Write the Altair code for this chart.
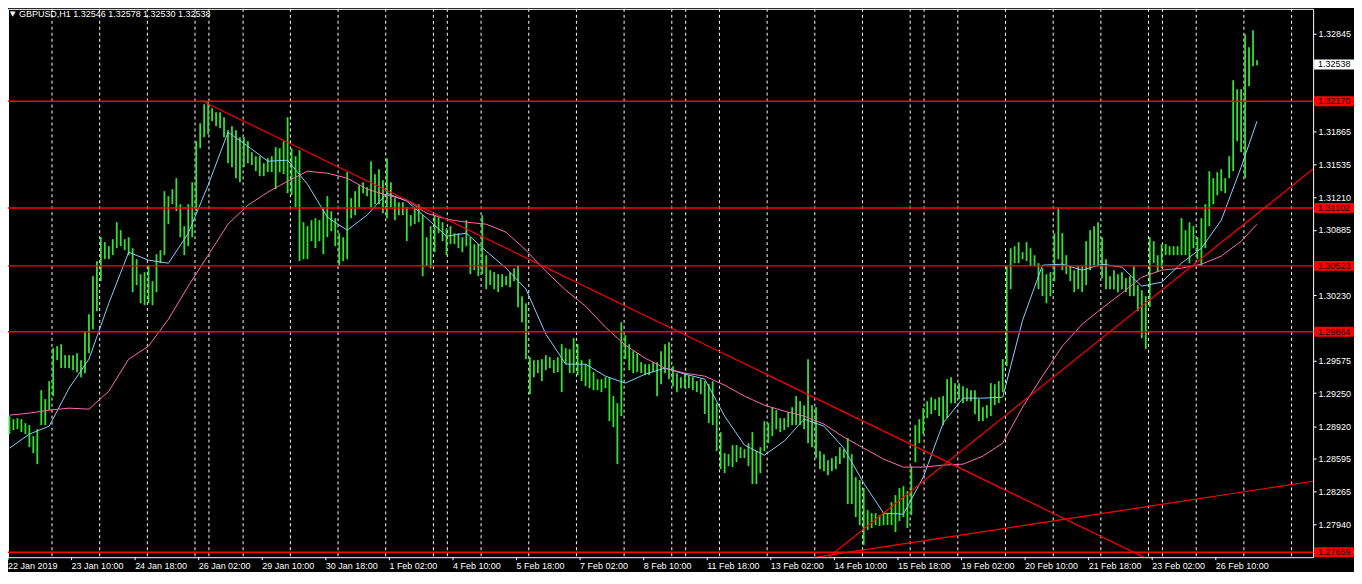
import altair as alt
import pandas as pd

# ---------------- data ----------------
# one bar = two hourly bars; index 0..314
highs = [1.2902, 1.2899, 1.2900, 1.2899, 1.2895, 1.2893, 1.2882, 1.2889, 1.2928, 1.2919,
         1.2937, 1.2970, 1.2972, 1.2974, 1.2963, 1.2963, 1.2963, 1.2965, 1.2958, 1.2987,
         1.3004, 1.3042, 1.3057, 1.3081, 1.3076, 1.3072, 1.3079, 1.3096, 1.3088, 1.3079,
         1.3081, 1.3070, 1.3059, 1.3044, 1.3046, 1.3053, 1.3037, 1.3064, 1.3068, 1.3127,
         1.3122, 1.3129, 1.3140, 1.3114, 1.3092, 1.3114, 1.3136, 1.3177, 1.3195, 1.3214,
         1.3217, 1.3210, 1.3206, 1.3206, 1.3201, 1.3188, 1.3192, 1.3188, 1.3181, 1.3181,
         1.3177, 1.3166, 1.3162, 1.3162, 1.3155, 1.3160, 1.3162, 1.3171, 1.3170, 1.3177,
         1.3201, 1.3170, 1.3162, 1.3168, 1.3096, 1.3092, 1.3098, 1.3100, 1.3098, 1.3111,
         1.3122, 1.3107, 1.3100, 1.3085, 1.3081, 1.3146, 1.3120, 1.3127, 1.3133, 1.3136,
         1.3131, 1.3157, 1.3144, 1.3149, 1.3138, 1.3160, 1.3136, 1.3120, 1.3116, 1.3116,
         1.3111, 1.3103, 1.3111, 1.3114, 1.3103, 1.3081, 1.3092, 1.3103, 1.3101, 1.3096,
         1.3090, 1.3092, 1.3085, 1.3085, 1.3081, 1.3098, 1.3081, 1.3074, 1.3074, 1.3103,
         1.3063, 1.3048, 1.3046, 1.3044, 1.3044, 1.3042, 1.3046, 1.3050, 1.3053, 1.3022,
         1.3015, 1.2961, 1.2958, 1.2958, 1.2959, 1.2963, 1.2961, 1.2958, 1.2961, 1.2974,
         1.2970, 1.2969, 1.2980, 1.2974, 1.2958, 1.2954, 1.2959, 1.2946, 1.2939, 1.2939,
         1.2941, 1.2941, 1.2922, 1.2915, 1.2996, 1.2983, 1.2974, 1.2967, 1.2965, 1.2956,
         1.2954, 1.2954, 1.2956, 1.2956, 1.2967, 1.2974, 1.2976, 1.2952, 1.2945, 1.2941,
         1.2945, 1.2943, 1.2941, 1.2937, 1.2939, 1.2937, 1.2934, 1.2937, 1.2915, 1.2886,
         1.2865, 1.2864, 1.2873, 1.2873, 1.2871, 1.2869, 1.2875, 1.2886, 1.2867, 1.2871,
         1.2897, 1.2895, 1.2911, 1.2908, 1.2900, 1.2900, 1.2906, 1.2911, 1.2922, 1.2917,
         1.2913, 1.2959, 1.2913, 1.2911, 1.2867, 1.2864, 1.2858, 1.2860, 1.2862, 1.2871,
         1.2869, 1.2880, 1.2864, 1.2841, 1.2838, 1.2830, 1.2808, 1.2805, 1.2805, 1.2803,
         1.2805, 1.2805, 1.2816, 1.2823, 1.2830, 1.2832, 1.2827, 1.2852, 1.2893, 1.2899,
         1.2910, 1.2917, 1.2921, 1.2919, 1.2921, 1.2922, 1.2939, 1.2941, 1.2935, 1.2935,
         1.2932, 1.2930, 1.2928, 1.2928, 1.2919, 1.2911, 1.2913, 1.2935, 1.2934, 1.2937,
         1.2959, 1.3052, 1.3070, 1.3072, 1.3076, 1.3066, 1.3076, 1.3070, 1.3063, 1.3055,
         1.3050, 1.3044, 1.3046, 1.3085, 1.3111, 1.3085, 1.3063, 1.3052, 1.3048, 1.3052,
         1.3052, 1.3077, 1.3088, 1.3092, 1.3096, 1.3081, 1.3059, 1.3042, 1.3048, 1.3044,
         1.3046, 1.3040, 1.3042, 1.3052, 1.3033, 1.3028, 1.3022, 1.3081, 1.3077, 1.3063,
         1.3074, 1.3074, 1.3072, 1.3072, 1.3072, 1.3100, 1.3088, 1.3096, 1.3092, 1.3081,
         1.3100, 1.3114, 1.3147, 1.3140, 1.3146, 1.3149, 1.3140, 1.3162, 1.3238, 1.3229,
         1.3229, 1.3284, 1.3271, 1.3288, 1.3258]

lows = [1.2884, 1.2888, 1.2889, 1.2886, 1.2884, 1.2871, 1.2865, 1.2854, 1.2893, 1.2893,
        1.2908, 1.2922, 1.2958, 1.2950, 1.2950, 1.2950, 1.2948, 1.2946, 1.2941, 1.2945,
        1.2965, 1.2989, 1.3007, 1.3037, 1.3059, 1.3059, 1.3063, 1.3070, 1.3072, 1.3068,
        1.3063, 1.3026, 1.3033, 1.3015, 1.3013, 1.3015, 1.3013, 1.3026, 1.3055, 1.3063,
        1.3094, 1.3114, 1.3107, 1.3081, 1.3063, 1.3072, 1.3081, 1.3107, 1.3170, 1.3181,
        1.3184, 1.3197, 1.3192, 1.3190, 1.3181, 1.3155, 1.3151, 1.3140, 1.3136, 1.3151,
        1.3155, 1.3153, 1.3147, 1.3142, 1.3142, 1.3146, 1.3146, 1.3129, 1.3146, 1.3144,
        1.3125, 1.3123, 1.3111, 1.3057, 1.3059, 1.3059, 1.3077, 1.3070, 1.3077, 1.3064,
        1.3081, 1.3087, 1.3072, 1.3053, 1.3057, 1.3059, 1.3100, 1.3103, 1.3111, 1.3125,
        1.3122, 1.3111, 1.3114, 1.3114, 1.3105, 1.3100, 1.3111, 1.3098, 1.3103, 1.3103,
        1.3077, 1.3092, 1.3094, 1.3096, 1.3042, 1.3052, 1.3050, 1.3066, 1.3085, 1.3077,
        1.3063, 1.3074, 1.3074, 1.3070, 1.3066, 1.3072, 1.3044, 1.3048, 1.3042, 1.3044,
        1.3029, 1.3033, 1.3029, 1.3026, 1.3031, 1.3033, 1.3031, 1.3037, 1.3011, 1.2996,
        1.2959, 1.2924, 1.2941, 1.2945, 1.2937, 1.2948, 1.2950, 1.2945, 1.2946, 1.2926,
        1.2954, 1.2945, 1.2945, 1.2943, 1.2937, 1.2932, 1.2930, 1.2928, 1.2928, 1.2926,
        1.2930, 1.2897, 1.2891, 1.2854, 1.2902, 1.2959, 1.2948, 1.2945, 1.2946, 1.2945,
        1.2943, 1.2943, 1.2946, 1.2922, 1.2934, 1.2945, 1.2939, 1.2932, 1.2926, 1.2930,
        1.2930, 1.2930, 1.2928, 1.2926, 1.2924, 1.2904, 1.2895, 1.2893, 1.2867, 1.2849,
        1.2845, 1.2852, 1.2851, 1.2856, 1.2860, 1.2860, 1.2852, 1.2834, 1.2834, 1.2845,
        1.2867, 1.2875, 1.2882, 1.2889, 1.2886, 1.2888, 1.2891, 1.2893, 1.2893, 1.2893,
        1.2889, 1.2875, 1.2871, 1.2860, 1.2849, 1.2847, 1.2843, 1.2847, 1.2849, 1.2854,
        1.2860, 1.2814, 1.2814, 1.2801, 1.2793, 1.2773, 1.2788, 1.2790, 1.2793, 1.2792,
        1.2793, 1.2793, 1.2793, 1.2786, 1.2797, 1.2801, 1.2790, 1.2803, 1.2856, 1.2875,
        1.2884, 1.2900, 1.2904, 1.2908, 1.2902, 1.2893, 1.2900, 1.2915, 1.2915, 1.2919,
        1.2915, 1.2917, 1.2917, 1.2904, 1.2897, 1.2897, 1.2900, 1.2902, 1.2913, 1.2915,
        1.2926, 1.2952, 1.3029, 1.3055, 1.3055, 1.3059, 1.3057, 1.3052, 1.3052, 1.3029,
        1.3022, 1.3015, 1.3022, 1.3037, 1.3059, 1.3048, 1.3044, 1.3037, 1.3026, 1.3029,
        1.3026, 1.3033, 1.3048, 1.3053, 1.3052, 1.3040, 1.3029, 1.3029, 1.3029, 1.3026,
        1.3029, 1.3026, 1.3022, 1.3022, 1.3007, 1.2980, 1.2969, 1.3011, 1.3055, 1.3046,
        1.3050, 1.3063, 1.3063, 1.3063, 1.3063, 1.3063, 1.3063, 1.3055, 1.3070, 1.3059,
        1.3052, 1.3070, 1.3092, 1.3114, 1.3123, 1.3127, 1.3125, 1.3140, 1.3147, 1.3177,
        1.3166, 1.3140, 1.3232, 1.3252, 1.3253]

ma_index = [0, 5, 10, 15, 20, 25, 30, 35, 40, 45, 50, 55, 60, 65, 70, 75, 80, 85, 90, 95,
            100, 105, 110, 115, 120, 125, 130, 135, 140, 145, 150, 155, 160, 165, 170, 175,
            180, 185, 190, 195, 200, 205, 210, 215, 220, 225, 230, 235, 240, 245, 250, 255,
            260, 265, 270, 275, 280, 285, 290, 295, 300, 305, 310, 314]

ma_fast = [1.2870, 1.2884, 1.2892, 1.2930, 1.2959, 1.3015, 1.3066, 1.3058, 1.3055, 1.3085,
           1.3133, 1.3186, 1.3172, 1.3157, 1.3158, 1.3134, 1.3101, 1.3088, 1.3103, 1.3125,
           1.3117, 1.3100, 1.3082, 1.3085, 1.3067, 1.3050, 1.3029, 1.2984, 1.2954, 1.2954,
           1.2942, 1.2935, 1.2944, 1.2950, 1.2944, 1.2939, 1.2902, 1.2873, 1.2863, 1.2877,
           1.2899, 1.2892, 1.2870, 1.2835, 1.2805, 1.2804, 1.2841, 1.2895, 1.2920, 1.2920,
           1.2921, 1.2998, 1.3053, 1.3054, 1.3048, 1.3054, 1.3051, 1.3032, 1.3036, 1.3055,
           1.3070, 1.3098, 1.3151, 1.3197]

ma_slow = [1.2903, 1.2905, 1.2908, 1.2910, 1.2909, 1.2927, 1.2959, 1.2972, 1.2999, 1.3032,
           1.3063, 1.3094, 1.3113, 1.3126, 1.3137, 1.3147, 1.3145, 1.3140, 1.3129, 1.3123,
           1.3118, 1.3105, 1.3099, 1.3096, 1.3094, 1.3086, 1.3068, 1.3047, 1.3028, 1.3012,
           1.2991, 1.2973, 1.2960, 1.2950, 1.2945, 1.2942, 1.2933, 1.2922, 1.2913, 1.2907,
           1.2902, 1.2894, 1.2881, 1.2870, 1.2859, 1.2851, 1.2851, 1.2853, 1.2854, 1.2862,
           1.2875, 1.2911, 1.2942, 1.2972, 1.2994, 1.3010, 1.3025, 1.3041, 1.3048, 1.3050,
           1.3054, 1.3062, 1.3077, 1.3094]

level_prices = [1.32170, 1.31102, 1.30523, 1.29864, 1.27659]
current_price = 1.32538

trend_ids = ["down", "down", "up_steep", "up_steep", "up_flat", "up_flat"]
trend_index = [48.6, 300.0, 205.0, 328.1, 202.6, 328.1]
trend_price = [1.32170, 1.27330, 1.27572, 1.31492, 1.27607, 1.28369]

separator_index = [10.7, 22.7, 34.7, 46.7, 50.2, 58.8, 70.7, 82.7, 94.7, 106.7, 110.2,
                   118.7, 130.7, 142.7, 154.7, 166.7, 170.2, 178.7, 190.7, 202.7, 214.7,
                   226.7, 230.2, 238.7, 250.7, 262.7, 274.7, 286.7, 290.2, 298.7, 310.7,
                   322.7]

time_label_index = [-0.375, 15.625, 31.625, 47.625, 63.625, 79.625, 95.625, 111.625,
                    127.625, 143.625, 159.625, 175.625, 191.625, 207.625, 223.625,
                    239.625, 255.625, 271.625, 287.625, 303.625]
time_labels = ["22 Jan 2019", "23 Jan 10:00", "24 Jan 18:00", "26 Jan 02:00",
               "29 Jan 10:00", "30 Jan 18:00", "1 Feb 02:00", "4 Feb 10:00",
               "5 Feb 18:00", "7 Feb 02:00", "8 Feb 10:00", "11 Feb 18:00",
               "13 Feb 02:00", "14 Feb 10:00", "15 Feb 18:00", "19 Feb 02:00",
               "20 Feb 10:00", "21 Feb 18:00", "23 Feb 02:00", "26 Feb 10:00"]

price_ticks = [1.32845, 1.31865, 1.31535, 1.31210, 1.30885, 1.30230,
               1.29575, 1.29250, 1.28920, 1.28595, 1.28265, 1.27940]

header_text = "GBPUSD,H1  1.32546 1.32578 1.32530 1.32538"

# ---------------- tables ----------------
bars = pd.DataFrame({"i": list(range(len(highs))), "hi": highs, "lo": lows})
ma = pd.DataFrame({"i": ma_index, "fast": ma_fast, "slow": ma_slow})
levels = pd.DataFrame({"p": level_prices, "label": [f"{v:.5f}" for v in level_prices]})
cur = pd.DataFrame({"p": [current_price], "label": [f"{current_price:.5f}"]})
trends = pd.DataFrame({"id": trend_ids, "i": trend_index, "p": trend_price})
seps = pd.DataFrame({"i": separator_index})
tlab = pd.DataFrame({"i": time_label_index, "label": time_labels})
head = pd.DataFrame({"t": [header_text]})

W, H = 1309, 550
FONT = "Liberation Sans"
GREEN = "#33e033"
RED = "#ff0000"

xs = alt.Scale(domain=[-0.375, 328.125], nice=False, zero=False)
ys = alt.Scale(domain=[1.27609, 1.33094], nice=False, zero=False)
yaxis = alt.Axis(orient="right", values=price_ticks, format=".5f", title=None,
                 labelFont=FONT, labelFontSize=9, labelColor="white",
                 tickColor="white", tickSize=3, labelPadding=2, domain=False,
                 grid=False, labelFlush=False, labelOverlap=False)


def X(field="i"):
    return alt.X(f"{field}:Q", scale=xs, axis=None)


def Y(field):
    return alt.Y(f"{field}:Q", scale=ys, axis=yaxis)


sep_layer = alt.Chart(seps).mark_rule(color="white", strokeDash=[3, 3], strokeWidth=1).encode(
    x=X())

bar_layer = alt.Chart(bars).mark_rule(color=GREEN, strokeWidth=1.8).encode(
    x=X(), y=Y("lo"), y2="hi:Q")

fast_layer = alt.Chart(ma).mark_line(color="#87cefa", strokeWidth=1).encode(
    x=X(), y=Y("fast"))
slow_layer = alt.Chart(ma).mark_line(color="#ff69b4", strokeWidth=1).encode(
    x=X(), y=Y("slow"))

level_layer = alt.Chart(levels).mark_rule(color=RED, strokeWidth=1.5).encode(y=Y("p"))

trend_layer = alt.Chart(trends).mark_line(color=RED, strokeWidth=1.2, clip=True).encode(
    x=X(), y=Y("p"), detail="id:N")

level_box = alt.Chart(levels).mark_tick(orient="horizontal", color=RED, thickness=10,
                                        size=40, opacity=1).encode(
    y=Y("p"), x=alt.value(W + 21))
level_txt = alt.Chart(levels).mark_text(font=FONT, fontSize=9, color="black",
                                        align="left", baseline="middle").encode(
    y=Y("p"), x=alt.value(W + 5), text="label:N")

cur_box = alt.Chart(cur).mark_tick(orient="horizontal", color="white", thickness=10,
                                   size=40, opacity=1).encode(
    y=Y("p"), x=alt.value(W + 21))
cur_txt = alt.Chart(cur).mark_text(font=FONT, fontSize=9, color="black",
                                   align="left", baseline="middle").encode(
    y=Y("p"), x=alt.value(W + 5), text="label:N")

tick_layer = alt.Chart(tlab).mark_rule(color="white", strokeWidth=1).encode(
    x=X(), y=alt.value(H), y2=alt.value(H + 3))
tlab_layer = alt.Chart(tlab).mark_text(font=FONT, fontSize=9, color="white",
                                       align="left", baseline="middle").encode(
    x=X(), y=alt.value(H + 9), text="label:N")

tri_layer = alt.Chart(head).mark_text(font="DejaVu Sans", fontSize=7, color="white",
                                      align="left", baseline="middle", text="▼").encode(
    x=alt.value(2), y=alt.value(5))
head_layer = alt.Chart(head).mark_text(font=FONT, fontSize=9, color="white",
                                       align="left", baseline="middle").encode(
    x=alt.value(11), y=alt.value(5), text="t:N")

chart = alt.layer(
    sep_layer, bar_layer, fast_layer, slow_layer, level_layer, trend_layer,
    level_box, level_txt, cur_box, cur_txt, tick_layer, tlab_layer, tri_layer, head_layer
).properties(
    width=W, height=H,
    padding={"left": 0, "top": 0, "right": 41, "bottom": 14},
    autosize=alt.AutoSizeParams(type="none"),
    background="black",
).configure_view(
    stroke="white", strokeWidth=1, fill="black"
)

chart.save("out.html", embed_options={"renderer": "svg", "actions": False})
